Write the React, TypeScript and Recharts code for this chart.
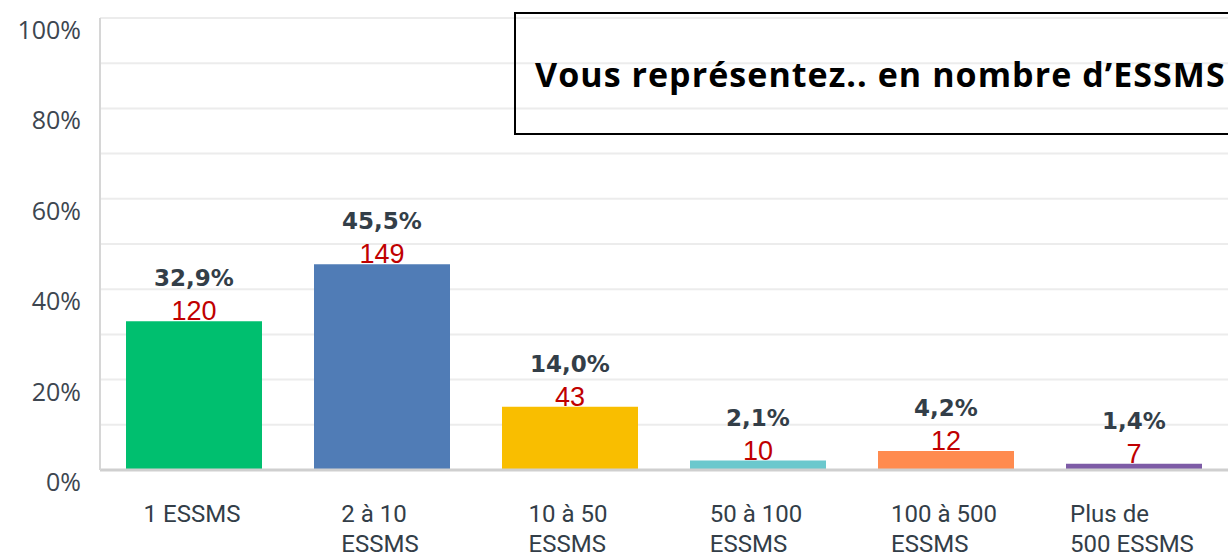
import React from 'react'
import { BarChart, Bar, XAxis, YAxis, CartesianGrid, Cell, LabelList } from 'recharts'

const categories = ['1 ESSMS', '2 à 10\nESSMS', '10 à 50\nESSMS', '50 à 100\nESSMS', '100 à 500\nESSMS', 'Plus de\n500 ESSMS']
const percents = [32.9, 45.5, 14.0, 2.1, 4.2, 1.4]
const counts = [120, 149, 43, 10, 12, 7]
const barColors = ['#00bf6f', '#507cb6', '#f9be00', '#6bc8cd', '#ff8b4f', '#7d5ba6']
const yTicks = [0, 10, 20, 30, 40, 50, 60, 70, 80, 90, 100]
const title = 'Vous représentez.. en nombre d’ESSMS'

const data = categories.map((c, i) => ({ name: c, pct: percents[i], count: counts[i] }))

const X_FONT = '24px Roboto'
let ctx: CanvasRenderingContext2D | null = null
function measure(text: string) {
  if (!ctx) ctx = document.createElement('canvas').getContext('2d')
  if (!ctx) return text.length * 12
  ctx.font = X_FONT
  return ctx.measureText(text).width
}

function XTick(props: any) {
  const { x, y, payload } = props
  const lines: string[] = String(payload.value).split('\n')
  const w = Math.max(...lines.map(measure))
  return (
    <text x={x - w / 2} y={y} fill="#333e48" fontFamily="Roboto" fontSize={24} textAnchor="start">
      {lines.map((l, i) => (
        <tspan key={i} x={x - w / 2 - 2} dy={i === 0 ? 52 : 30}>{l}</tspan>
      ))}
    </text>
  )
}

function YTick(props: any) {
  const { y, payload } = props
  if (payload.value % 20 !== 0) return null
  return (
    <text x={81} y={y + 21} fill="#3d4650" fontFamily="'Open Sans'" fontSize={25} textAnchor="end">
      {payload.value}%
    </text>
  )
}

function PctLabel(props: any) {
  const { x, y, width, value } = props
  return (
    <text x={x + width / 2} y={y - 35} fill="#333e48" fontFamily="'DejaVu Sans'" fontWeight={700} fontSize={23} textAnchor="middle">
      {Number(value).toFixed(1).replace('.', ',')}%
    </text>
  )
}

function CountLabel(props: any) {
  const { x, y, width, value } = props
  return (
    <text x={x + width / 2} y={y - 1} fill="#c00000" fontFamily="'Liberation Sans'" fontSize={27} textAnchor="middle">
      {value}
    </text>
  )
}

export default function App() {
  return (
    <div style={{ position: 'absolute', left: 0, top: 0, width: 1228, height: 558, overflow: 'hidden', background: '#fff' }}>
      <BarChart width={1228} height={558} data={data} margin={{ top: 18, right: 0, bottom: 0, left: 0 }}>
        <CartesianGrid vertical={false} stroke="#ececec" strokeWidth={2} />
        <XAxis
          dataKey="name"
          height={88}
          interval={0}
          tickLine={false}
          tickSize={0}
          tickMargin={0}
          axisLine={{ stroke: '#cfcfcf', strokeWidth: 3 }}
          tick={<XTick />}
        />
        <YAxis
          width={100}
          domain={[0, 100]}
          ticks={yTicks}
          interval={0}
          tickLine={false}
          axisLine={{ stroke: '#d6d6d6', strokeWidth: 2 }}
          tick={<YTick />}
        />
        <Bar dataKey="pct" barSize={136} isAnimationActive={false}>
          {data.map((d, i) => (
            <Cell key={d.name} fill={barColors[i]} />
          ))}
          <LabelList dataKey="pct" content={<PctLabel />} />
          <LabelList dataKey="count" content={<CountLabel />} />
        </Bar>
      </BarChart>
      <div
        style={{
          position: 'absolute',
          left: 514,
          top: 12,
          width: 740,
          height: 123,
          boxSizing: 'border-box',
          border: '2px solid #000',
          display: 'flex',
          alignItems: 'center',
          paddingLeft: 19,
          fontFamily: "'Open Sans'",
          fontWeight: 700,
          fontSize: 34,
          letterSpacing: 1.05,
          color: '#000',
          whiteSpace: 'nowrap'
        }}
      >
        {title}
      </div>
    </div>
  )
}
